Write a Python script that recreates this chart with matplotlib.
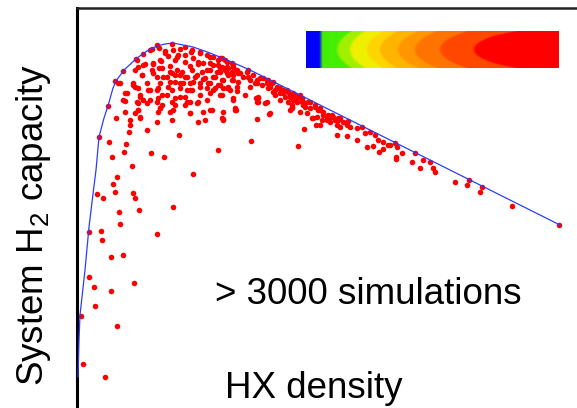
import numpy as np
import matplotlib
matplotlib.use("Agg")
import matplotlib.pyplot as plt
from matplotlib.colors import to_rgb

plt.rcParams.update({"font.family": "Liberation Sans",
                     "mathtext.fontset": "custom",
                     "mathtext.rm": "Liberation Sans",
                     "mathtext.it": "Liberation Sans:italic"})

# --- pareto frontier (HX density vs system H2 capacity, arbitrary units) ---
frontier_density = [1, 2, 3, 8, 12, 16, 19, 22, 27, 31, 36, 39, 47, 60, 70, 80, 88, 96,
                    106, 116, 133, 150, 173, 483]
frontier_capacity = [31, 68, 93, 138, 181, 214, 238, 271, 290, 302, 320, 327, 338, 350,
                     357, 362, 364, 365, 363, 361, 355, 348, 338, 183]

# --- individual simulations ---
sim_density = [
    6, 28, 4, 40, 18, 12, 17, 34, 57, 34, 46, 12, 24, 25, 80, 42, 62, 96, 43, 20, 26, 38,
    56, 58, 36, 40, 116, 55, 35, 47, 74, 87, 141, 174, 221, 32, 49, 52, 70, 102, 22, 31,
    39, 38, 41,
    80, 95, 108, 73, 66, 59, 46, 88, 103, 114, 123, 133, 141, 76, 84, 91, 100, 108, 116,
    126, 136, 145, 151, 66, 61, 82, 93, 100, 113, 121, 130, 140, 65, 76, 86, 95, 103, 110,
    120, 126, 136, 145, 151, 83, 98, 106, 116, 133, 141, 58, 70, 73, 81, 91, 103, 113, 123,
    138, 150, 43, 56, 48, 63, 73, 81, 90, 98, 108, 113, 130, 48, 61, 66, 85, 98, 108, 120,
    61, 83, 81, 93, 113, 133, 58, 53, 63, 95, 121, 128, 146, 53, 80,
    145, 150, 155, 156, 148, 155, 160, 163, 170, 171, 176, 180, 186, 190, 193, 196, 201,
    205, 210, 213, 216, 220, 225, 228, 233, 238, 243, 246, 251, 256, 261, 266, 270, 143,
    146, 145, 156, 158, 168, 173, 181, 181, 190, 193, 198, 203, 211, 215, 223, 230, 235,
    240, 243, 250, 260, 263, 146, 180, 192, 227, 239, 260, 270, 159, 179,
    180, 191, 198, 203, 206, 213, 216, 215, 223, 225, 228, 238, 243, 246, 253, 261, 270,
    273, 280, 285, 288, 293, 298, 301, 306, 313, 318, 320, 325, 338, 346, 353, 356, 358,
    378, 390, 392, 403, 405, 435, 482, 280, 290, 296, 302, 306, 311, 319, 319, 335, 343,
    75, 82, 88, 96, 101, 115, 123, 130, 136, 143, 148,
    60, 68, 76, 83, 98, 108, 121, 133, 141, 150, 156, 158,
    75, 85, 93, 105, 115, 125, 133, 143, 150, 156,
    58, 65, 80, 90, 98, 108, 118, 128, 138, 146, 155, 161,
    56, 93, 103, 113, 123, 131, 143, 151, 160,
    61, 71, 80, 95, 110, 115, 130, 136,
    50, 63, 85, 103, 123, 133, 143, 153,
    46, 60, 70, 80, 95, 110, 121,
    48, 61, 83, 96, 113, 126, 135, 146, 158,
    63, 145,
    155, 156, 161, 166, 171, 173, 178, 183, 185, 190,
    191, 195, 196, 200, 203, 206, 208, 211, 215, 218,
    220, 225, 226, 231, 233, 241, 250, 255, 258, 263, 271,
    160, 156, 181, 180, 188, 213, 215, 236, 245, 253,
]
sim_capacity = [
    44, 31, 92, 82, 102, 131, 121, 117, 125, 151, 153, 176, 177, 168, 174, 196, 198, 201,
    184, 214, 210, 216, 215, 210, 224, 231, 234, 242, 251, 256, 255, 251, 258, 267, 262,
    266, 264, 276, 278, 273, 271, 302, 290, 327, 325,
    363, 364, 361, 358, 354, 349, 337, 357, 359, 356, 355, 351, 348, 344, 347, 352, 351,
    353, 350, 345, 343, 341, 340, 343, 341, 340, 342, 338, 342, 344, 338, 336, 333, 335,
    331, 335, 333, 331, 333, 329, 331, 328, 333, 325, 326, 325, 326, 325, 323, 321, 325,
    318, 320, 321, 320, 318, 321, 320, 320, 325, 325, 315, 311, 308, 310, 313, 310, 311,
    306, 308, 307, 305, 308, 303, 303, 303, 305, 298, 300, 296, 296, 295, 298, 295, 288,
    291, 288, 286, 288, 288, 283, 286,
    350, 346, 345, 341, 338, 336, 338, 335, 336, 331, 333, 328, 330, 325, 321, 326, 320,
    316, 318, 313, 315, 310, 308, 305, 306, 301, 300, 296, 293, 291, 290, 286, 283, 340,
    320, 313, 310, 300, 313, 321, 310, 306, 306, 295, 313, 308, 306, 300, 296, 295, 290,
    291, 283, 288, 283, 281, 289, 289, 294, 279, 283, 273, 272, 298, 310,
    325, 328, 318, 320, 315, 311, 308, 303, 313, 306, 301, 303, 298, 293, 291, 288, 286,
    281, 280, 281, 275, 276, 273, 268, 266, 263, 265, 261, 255, 255, 248, 246, 240, 236,
    226, 223, 228, 216, 221, 202, 183, 268, 261, 262, 256, 259, 263, 251, 249, 246, 240,
    359, 360, 355, 358, 353, 358, 356, 353, 351, 350, 348,
    348, 344, 345, 348, 348, 346, 346, 345, 343, 341, 343, 338,
    338, 340, 336, 336, 338, 336, 338, 336, 335, 333,
    338, 333, 331, 331, 333, 331, 331, 330, 331, 328, 328, 326,
    323, 326, 325, 325, 325, 325, 323, 321, 321,
    320, 318, 318, 318, 318, 318, 320, 318,
    315, 313, 313, 311, 313, 315, 313, 318,
    308, 306, 305, 306, 306, 306, 306,
    296, 298, 300, 298, 295, 296, 298, 296, 298,
    290, 290,
    335, 328, 335, 331, 338, 328, 325, 330, 323, 328,
    320, 325, 316, 321, 315, 318, 311, 316, 310, 313,
    306, 310, 303, 306, 300, 298, 291, 293, 288, 290, 287,
    317, 308, 311, 306, 305, 298, 301, 290, 288, 286,
]

# legend colour bands, right (red) to left (green), then the blue end cap
band_colors = ["#ff0000", "#ff4800", "#ff7400", "#ff9600", "#ffb400", "#ffd500",
               "#eef000", "#a0f000", "#44ee00", "#0000ff"]
band_edges = [96, 130, 155, 172, 190, 203, 220, 233]

fig = plt.figure(figsize=(5.77, 4.08), dpi=100, facecolor="white")

ax = fig.add_axes([77 / 577, -0.1, 1.0, 1 - 8 / 408 + 0.1])
ax.scatter(sim_density, sim_capacity, s=16, c="#ff0000", linewidths=0, zorder=2)
ax.plot(frontier_density, frontier_capacity, color="#2b3cff", lw=0.9, zorder=3)
ax.set_xlim(0, 577)
ax.set_ylim(-40.8, 400)
ax.set_xticks([]); ax.set_yticks([])
for side in ("right", "bottom"):
    ax.spines[side].set_visible(False)
ax.spines["left"].set_linewidth(2.2)
ax.spines["top"].set_linewidth(1.8)
ax.spines["top"].set_color("#222222")

ax.text(138, 104, "> 3000 simulations", fontsize=26.5, ha="left", va="baseline")
ax.text(148, 10, "HX density", fontsize=26.5, ha="left", va="baseline")
fig.text(34 / 577, 0.4485, "System H$_2$ capacity", fontsize=26.5, rotation=90,
         ha="center", va="center")

# ---- colour scale bar (top right) ----
cax = fig.add_axes([306 / 577, (408 - 68) / 408, 253 / 577, 37 / 408])
X, Y = np.meshgrid(np.linspace(306, 559, 506), np.linspace(31, 68, 74))
r = np.sqrt((570 - X) ** 2 + (4.3 * (Y - 49.5)) ** 2)
idx = np.digitize(r, band_edges)
idx[X < 321] = len(band_colors) - 1
rgb = np.array([to_rgb(c) for c in band_colors])[idx]
# soften the band edges a little, like the original rendering
k = 7
pad = np.pad(rgb, ((0, 0), (k // 2, k // 2), (0, 0)), mode="edge")
rgb = np.mean([pad[:, i:i + rgb.shape[1]] for i in range(k)], axis=0)
cax.imshow(rgb, aspect="auto", interpolation="bilinear")
cax.axis("off")

fig.savefig("out.png", dpi=100, facecolor="white")
